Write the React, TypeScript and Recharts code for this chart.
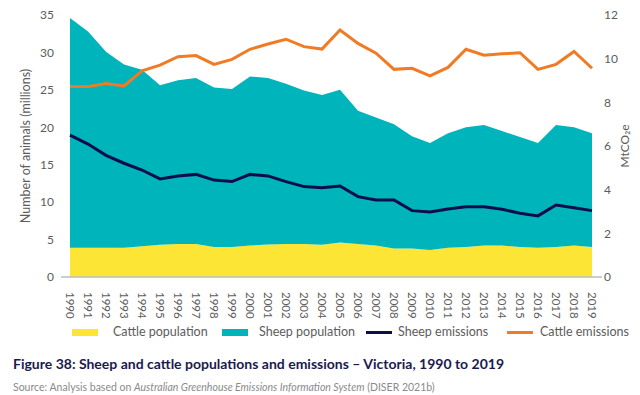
import { Area, ComposedChart, Line, XAxis, YAxis } from 'recharts'

const years = [
  '1990', '1991', '1992', '1993', '1994', '1995', '1996', '1997', '1998', '1999',
  '2000', '2001', '2002', '2003', '2004', '2005', '2006', '2007', '2008', '2009',
  '2010', '2011', '2012', '2013', '2014', '2015', '2016', '2017', '2018', '2019',
]

// millions of animals
const cattlePopulation = [
  3.9, 3.9, 3.9, 3.9, 4.1, 4.3, 4.4, 4.4, 4.0, 4.0,
  4.2, 4.35, 4.4, 4.4, 4.3, 4.6, 4.4, 4.2, 3.8, 3.8,
  3.6, 3.9, 4.0, 4.2, 4.2, 4.0, 3.9, 4.0, 4.2, 4.0,
]
const sheepPopulation = [
  30.7, 28.9, 26.2, 24.5, 23.6, 21.3, 21.9, 22.2, 21.3, 21.1,
  22.6, 22.25, 21.4, 20.5, 20.0, 20.4, 17.8, 17.1, 16.6, 15.0,
  14.3, 15.3, 16.0, 16.1, 15.3, 14.7, 14.0, 16.3, 15.8, 15.2,
]

// MtCO2e
const sheepEmissions = [
  6.5, 6.09, 5.57, 5.21, 4.9, 4.49, 4.63, 4.7, 4.44, 4.37,
  4.7, 4.63, 4.37, 4.14, 4.09, 4.17, 3.68, 3.53, 3.53, 3.04,
  2.98, 3.11, 3.22, 3.22, 3.1, 2.92, 2.8, 3.3, 3.17, 3.04,
]
const cattleEmissions = [
  8.72, 8.72, 8.86, 8.75, 9.44, 9.7, 10.09, 10.14, 9.74, 9.97,
  10.43, 10.67, 10.89, 10.55, 10.44, 11.31, 10.7, 10.25, 9.51, 9.56,
  9.21, 9.6, 10.43, 10.16, 10.22, 10.27, 9.51, 9.74, 10.33, 9.56,
]

const leftTicks = [0, 5, 10, 15, 20, 25, 30, 35]
const rightTicks = [0, 2, 4, 6, 8, 10, 12]

const YELLOW = '#fde536'
const TEAL = '#00b4bc'
const NAVY = '#0d0d4b'
const ORANGE = '#f07b24'
const TEXT = '#5c5c5c'
const FONT = 'Lato, "Open Sans", sans-serif'

const chartData = years.map((year, i) => ({
  year,
  cattle: cattlePopulation[i],
  sheep: sheepPopulation[i],
  sheepEm: sheepEmissions[i],
  cattleEm: cattleEmissions[i],
}))

const YearTick = (props: any) => {
  const { x, y, payload } = props
  return (
    <text
      x={0}
      y={0}
      dy="0.35em"
      transform={`translate(${x},${y + 7}) rotate(90)`}
      textAnchor="start"
      fontSize={11.5}
      fill={TEXT}
      fontFamily={FONT}
    >
      {payload.value}
    </text>
  )
}

const legendItems = [
  { label: 'Cattle population', color: YELLOW, kind: 'box', x: 72, tx: 113 },
  { label: 'Sheep population', color: TEAL, kind: 'box', x: 222, tx: 259 },
  { label: 'Sheep emissions', color: NAVY, kind: 'line', x: 366, tx: 398 },
  { label: 'Cattle emissions', color: ORANGE, kind: 'line', x: 507, tx: 540 },
]

const App = () => {
  return (
    <div
      style={{
        position: 'absolute',
        left: 0,
        top: 0,
        width: 640,
        height: 395,
        background: '#fff',
        fontFamily: FONT,
      }}
    >
      <ComposedChart
        width={640}
        height={320}
        data={chartData}
        margin={{ top: 15, right: 0, left: 0, bottom: 0 }}
      >
        <XAxis
          dataKey="year"
          interval={0}
          tick={<YearTick />}
          tickLine={false}
          axisLine={{ stroke: '#bdbdbd', strokeWidth: 1.5 }}
          padding={{ left: 9, right: 10 }}
          height={43}
        />
        <YAxis
          yAxisId="left"
          width={61}
          domain={[0, 35]}
          ticks={leftTicks}
          tickLine={false}
          axisLine={false}
          tickSize={0}
          tickMargin={7}
          tick={{ fontSize: 12, fill: TEXT, fontFamily: FONT }}
          label={{
            value: 'Number of animals (millions)',
            angle: -90,
            position: 'insideLeft',
            offset: 26,
            style: { fill: TEXT, fontSize: 12.5, textAnchor: 'middle', fontFamily: FONT },
          }}
        />
        <YAxis
          yAxisId="right"
          orientation="right"
          width={38}
          domain={[0, 12]}
          ticks={rightTicks}
          tickLine={false}
          axisLine={false}
          tickSize={0}
          tickMargin={2}
          tick={{ fontSize: 12, fill: TEXT, fontFamily: FONT, textAnchor: 'start' }}
          label={{
            value: 'MtCO₂e',
            angle: -90,
            position: 'insideRight',
            offset: 15,
            style: { fill: TEXT, fontSize: 12, textAnchor: 'middle', fontFamily: FONT },
          }}
        />
        <Area
          yAxisId="left"
          type="linear"
          dataKey="cattle"
          stackId="pop"
          stroke="none"
          fill={YELLOW}
          fillOpacity={1}
          isAnimationActive={false}
          name="Cattle population"
        />
        <Area
          yAxisId="left"
          type="linear"
          dataKey="sheep"
          stackId="pop"
          stroke="none"
          fill={TEAL}
          fillOpacity={1}
          isAnimationActive={false}
          name="Sheep population"
        />
        <Line
          yAxisId="right"
          type="linear"
          dataKey="sheepEm"
          stroke={NAVY}
          strokeWidth={3}
          dot={false}
          isAnimationActive={false}
          name="Sheep emissions"
        />
        <Line
          yAxisId="right"
          type="linear"
          dataKey="cattleEm"
          stroke={ORANGE}
          strokeWidth={3}
          dot={false}
          isAnimationActive={false}
          name="Cattle emissions"
        />
      </ComposedChart>

      {legendItems.map((item) => (
        <div key={item.label}>
          <div
            style={{
              position: 'absolute',
              left: item.x,
              top: item.kind === 'box' ? 329 : 331,
              width: 26,
              height: item.kind === 'box' ? 7 : 3,
              background: item.color,
            }}
          />
          <div
            style={{
              position: 'absolute',
              left: item.tx,
              top: 324,
              fontSize: 12.5,
              lineHeight: '16px',
              color: TEXT,
              whiteSpace: 'nowrap',
            }}
          >
            {item.label}
          </div>
        </div>
      ))}

      <div
        style={{
          position: 'absolute',
          left: 13,
          top: 355,
          fontSize: 14,
          fontWeight: 700,
          color: '#1a1a4e',
          whiteSpace: 'nowrap',
          lineHeight: '18px',
        }}
      >
        Figure 38: Sheep and cattle populations and emissions – Victoria, 1990 to 2019
      </div>
      <div
        style={{
          position: 'absolute',
          left: 13,
          top: 381,
          fontSize: 10.5,
          color: '#8a8a8a',
          whiteSpace: 'nowrap',
          lineHeight: '12px',
        }}
      >
        Source: Analysis based on <i>Australian Greenhouse Emissions Information System</i> (DISER 2021b)
      </div>
    </div>
  )
}

export default App
